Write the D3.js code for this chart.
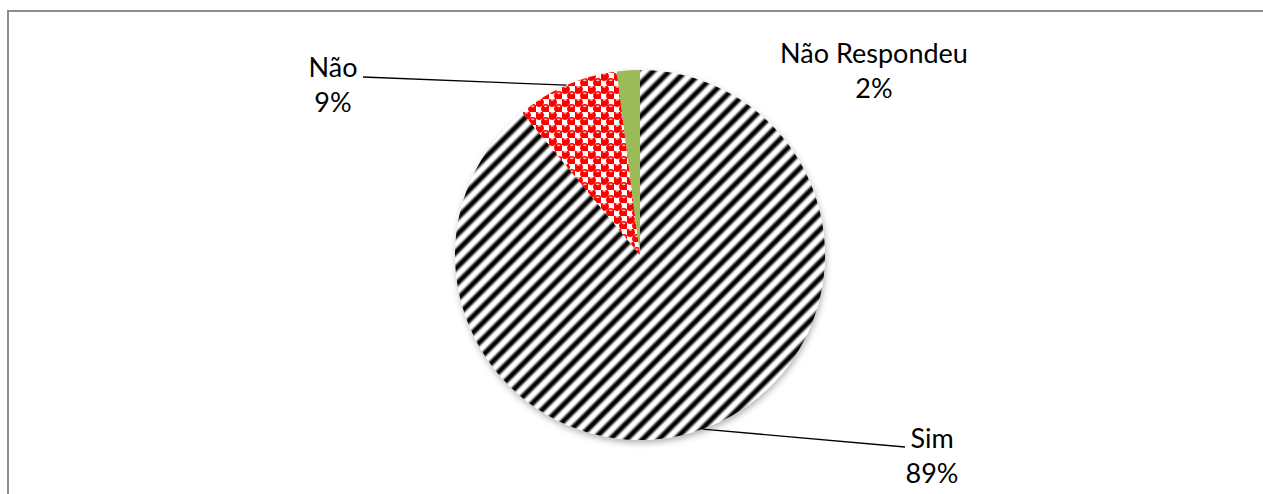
<!DOCTYPE html>
<html>
<head>
<meta charset="utf-8">
<script src="https://cdn.jsdelivr.net/npm/d3@7"></script>
<style>
  html, body { margin: 0; padding: 0; background: #fff; }
  svg { display: block; }
</style>
</head>
<body>
<svg id="chart" width="1263" height="494"></svg>
<script>
// ---- data ----
const categories = ["Sim", "Não", "Não Respondeu"];
const values = [89, 9, 2];
const percentLabels = ["89%", "9%", "2%"];

// ---- layout (not data) ----
const W = 1263, H = 494;
const cx = 640, cy = 255, R = 185;
const labelLayout = {
  "Sim":           { x: 932, y: 448, lineEnd: [905, 447] },
  "Não":           { x: 333, y: 77,  lineEnd: [363, 77] },
  "Não Respondeu": { x: 874, y: 63,  lineEnd: null }
};
const fontFamily = "Lato, 'Open Sans', sans-serif";
const fontSize = 27;
const lineGap = 35;

const svg = d3.select("#chart");
const defs = svg.append("defs");

// stripe pattern for "Sim"
const grad = defs.append("linearGradient").attr("id", "stripeGrad")
  .attr("x1", "0").attr("y1", "0").attr("x2", "1").attr("y2", "0");
[[0, "#fff"], [0.15, "#fff"], [0.4, "#000"], [0.6, "#000"], [0.85, "#fff"], [1, "#fff"]]
  .forEach(([o, c]) => grad.append("stop").attr("offset", o).attr("stop-color", c));
const stripeP = 11.5;
const sp = defs.append("pattern").attr("id", "stripes")
  .attr("patternUnits", "userSpaceOnUse")
  .attr("width", stripeP).attr("height", stripeP)
  .attr("patternTransform", "rotate(45)");
sp.append("rect").attr("width", stripeP).attr("height", stripeP).attr("fill", "url(#stripeGrad)");

// sphere checker pattern for "Não"
const cp = 13;
const rp = defs.append("pattern").attr("id", "spheres")
  .attr("patternUnits", "userSpaceOnUse")
  .attr("width", cp).attr("height", cp);
rp.append("rect").attr("width", cp).attr("height", cp).attr("fill", "#fff");
[[cp * 0.25, cp * 0.25], [cp * 0.75, cp * 0.75]].forEach(([x, y]) => {
  rp.append("circle").attr("cx", x).attr("cy", y).attr("r", 4.7).attr("fill", "#ff0000");
  rp.append("ellipse").attr("cx", x).attr("cy", y - 2.4).attr("rx", 1.8).attr("ry", 0.9).attr("fill", "#ffb4b4");
});

// shadow
const f = defs.append("filter").attr("id", "shadow")
  .attr("x", "-10%").attr("y", "-10%").attr("width", "120%").attr("height", "125%");
f.append("feDropShadow").attr("dx", 1).attr("dy", 3).attr("stdDeviation", 3)
  .attr("flood-color", "#000").attr("flood-opacity", 0.3);

// frame
svg.append("rect")
  .attr("x", 8).attr("y", 11).attr("width", W + 50).attr("height", H + 50)
  .attr("fill", "none").attr("stroke", "#8c8c8c").attr("stroke-width", 2);

const fills = { "Sim": "url(#stripes)", "Não": "url(#spheres)", "Não Respondeu": "#9bbb59" };

const pieData = d3.pie().sort(null).value(d => d.v)(
  categories.map((c, i) => ({ c, v: values[i], p: percentLabels[i] }))
);
const arc = d3.arc().innerRadius(0).outerRadius(R);

const g = svg.append("g").attr("transform", `translate(${cx},${cy})`);
const shadowG = g.append("g").attr("filter", "url(#shadow)");
shadowG.selectAll("path").data(pieData).join("path")
  .attr("d", arc)
  .attr("fill", d => fills[d.data.c]);

// leader lines
pieData.forEach(d => {
  const L = labelLayout[d.data.c];
  if (!L.lineEnd) return;
  const mid = (d.startAngle + d.endAngle) / 2;
  const sx = cx + R * Math.sin(mid), sy = cy - R * Math.cos(mid);
  svg.append("line")
    .attr("x1", sx).attr("y1", sy)
    .attr("x2", L.lineEnd[0]).attr("y2", L.lineEnd[1])
    .attr("stroke", "#000").attr("stroke-width", 1.3);
});

// labels
pieData.forEach(d => {
  const L = labelLayout[d.data.c];
  const t = svg.append("text")
    .attr("text-anchor", "middle")
    .attr("font-family", fontFamily)
    .attr("font-size", fontSize)
    .attr("fill", "#000");
  t.append("tspan").attr("x", L.x).attr("y", L.y).text(d.data.c);
  t.append("tspan").attr("x", L.x).attr("y", L.y + lineGap).text(d.data.p);
});
</script>
</body>
</html>
